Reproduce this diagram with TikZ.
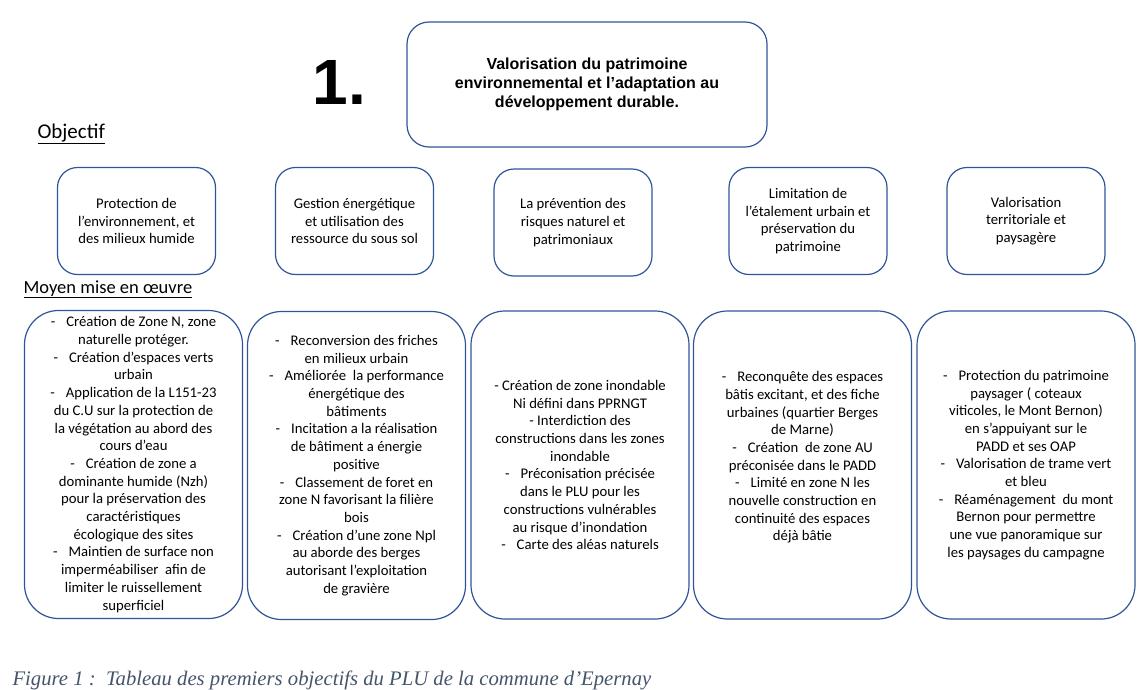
\documentclass[tikz,border=0pt]{standalone}
\usepackage{fontspec}
\setmainfont{Carlito}
\newfontfamily\arialfont{Liberation Sans}
\newfontfamily\legendefont{Liberation Serif}
\usetikzlibrary{positioning}
\definecolor{bordbleu}{RGB}{47,85,151}
\definecolor{legendegris}{RGB}{68,84,106}
\newcommand{\puce}{-\hspace{11pt}}

\begin{document}
\begin{tikzpicture}[x=1pt,y=-1pt,
  objbox/.style={rectangle, draw=bordbleu, line width=1.2pt, rounded corners=20pt, minimum width=158pt, minimum height=107pt, align=center, font=\fontsize{14.7}{17.7}\selectfont},
  moyenbox/.style={rectangle, draw=bordbleu, line width=1.2pt, rounded corners=34pt, minimum width=218pt, minimum height=308pt, align=center, font=\fontsize{14.7}{17.7}\selectfont}]
\useasboundingbox (0,0) rectangle (1147,689);

% Titre
\node[anchor=base west, font=\arialfont\bfseries\fontsize{64}{64}\selectfont] (numero) at (309,104) {1.};
\node[rectangle, draw=bordbleu, line width=1.2pt, rounded corners=22pt, minimum width=360pt, minimum height=125pt, align=center, font=\arialfont\bfseries\fontsize{16}{19}\selectfont] (titre) at (587,84.5) {Valorisation du patrimoine\\environnemental et l’adaptation au\\développement durable.};

% Rubriques
\node[anchor=base west, font=\fontsize{21}{21}\selectfont] (objectif) at (34,138) {\underline{Objectif}};
\node[anchor=base west, font=\fontsize{18.5}{18.5}\selectfont] (moyen) at (20,293) {\underline{Moyen mise en œuvre}};

% Objectifs
\node[objbox] (obj1) at (136.5,221) {Protection de\\l’environnement, et\\des milieux humide};
\node[objbox] (obj2) at (354.5,221) {Gestion énergétique\\et utilisation des\\ressource du sous sol};
\node[objbox] (obj3) at (573,222.5) {La prévention des\\risques naturel et\\patrimoniaux};
\node[objbox] (obj4) at (808,221) {Limitation de\\l’étalement urbain et\\préservation du\\patrimoine};
\node[objbox] (obj5) at (1026,221) {Valorisation\\territoriale et\\paysagère};

% Moyens mis en oeuvre
\node[moyenbox] (moy1) at (133.5,464.5) {\puce Création de Zone N, zone\\naturelle protéger.\\\puce Création d’espaces verts\\urbain\\\puce Application de la L151-23\\du C.U sur la protection de\\la végétation au abord des\\cours d’eau\\\puce Création de zone a\\dominante humide (Nzh)\\pour la préservation des\\caractéristiques\\écologique des sites\\\puce Maintien de surface non\\imperméabiliser\ \ afin de\\limiter le ruissellement\\superficiel};
\node[moyenbox] (moy2) at (356.5,465.5) {\puce Reconversion des friches\\en milieux urbain\\\puce Améliorée\ \ la performance\\énergétique des\\bâtiments\\\puce Incitation a la réalisation\\de bâtiment a énergie\\positive\\\puce Classement de foret en\\zone N favorisant la filière\\bois\\\puce Création d’une zone Npl\\au aborde des berges\\autorisant l’exploitation\\de gravière};
\node[moyenbox] (moy3) at (580,465) {- Création de zone inondable\\Ni défini dans PPRNGT\\- Interdiction des\\constructions dans les zones\\inondable\\\puce Préconisation précisée\\dans le PLU pour les\\constructions vulnérables\\au risque d’inondation\\\puce Carte des aléas naturels};
\node[moyenbox] (moy4) at (802.5,465) {\puce Reconquête des espaces\\bâtis excitant, et des fiche\\urbaines (quartier Berges\\de Marne)\\\puce Création\ \ de zone AU\\préconisée dans le PADD\\\puce Limité en zone N les\\nouvelle construction en\\continuité des espaces\\déjà bâtie\\\mbox{}};
\node[moyenbox] (moy5) at (1026,465) {\puce Protection du patrimoine\\paysager ( coteaux\\viticoles, le Mont Bernon)\\en s’appuiyant sur le\\PADD et ses OAP\\\puce Valorisation de trame vert\\et bleu\\\puce Réaménagement\ \ du mont\\Bernon pour permettre\\une vue panoramique sur\\les paysages du campagne};

% Legende
\node[anchor=base west, text=legendegris, font=\legendefont\itshape\fontsize{20.7}{20.7}\selectfont] (legende) at (9,685) {Figure 1 :\ \ Tableau des premiers objectifs du PLU de la commune d’Epernay};
\end{tikzpicture}
\end{document}
